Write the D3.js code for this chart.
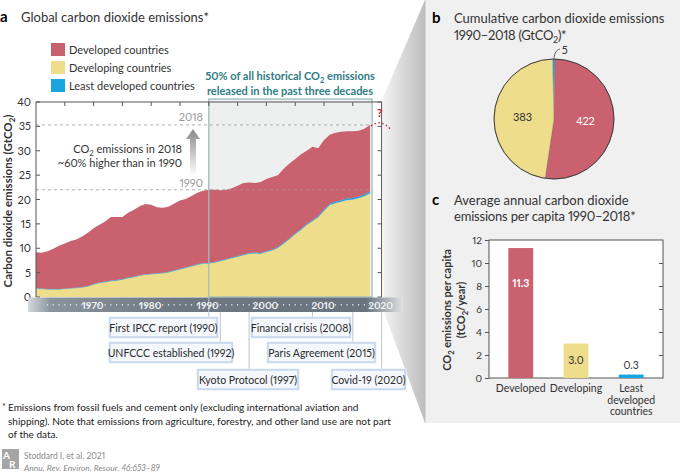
<!DOCTYPE html>
<html>
<head>
<meta charset="utf-8">
<script src="https://cdn.jsdelivr.net/npm/d3@7"></script>
<style>
  body { margin: 0; background: #fff; }
  text { font-family: Lato, "Open Sans", sans-serif; font-variant-numeric: proportional-nums; }
</style>
</head>
<body>
<svg id="chart" width="680" height="476"></svg>
<script>
// ---- data ----
var years = [1960,1961,1962,1963,1964,1965,1966,1967,1968,1969,
             1970,1971,1972,1973,1974,1975,1976,1977,1978,1979,
             1980,1981,1982,1983,1984,1985,1986,1987,1988,1989,
             1990,1991,1992,1993,1994,1995,1996,1997,1998,1999,
             2000,2001,2002,2003,2004,2005,2006,2007,2008,2009,
             2010,2011,2012,2013,2014,2015,2016,2017,2018];
var developed = [7.35,7.35,7.75,8.25,8.85,9.25,9.65,9.85,10.34,10.94,
                 11.44,11.83,12.33,13.03,12.93,12.73,13.32,13.72,14.12,14.42,
                 14.12,13.52,13.31,13.31,13.71,14.01,14.01,14.30,14.70,14.80,
                 15.00,14.80,14.39,14.19,14.18,14.38,14.67,14.47,14.27,14.56,
                 14.76,14.85,14.75,15.14,15.33,15.22,15.31,15.00,14.99,13.88,
                 14.26,14.15,14.14,14.03,13.82,13.71,13.50,13.49,13.68];
var developing = [1.8,1.7,1.6,1.6,1.6,1.7,1.8,1.9,2.0,2.2,
                  2.6,2.9,3.1,3.3,3.4,3.6,3.9,4.1,4.4,4.6,
                  4.7,4.8,4.9,5.1,5.4,5.7,6.0,6.3,6.6,6.9,
                  6.9,7.1,7.4,7.7,8.0,8.3,8.6,8.9,9.0,8.9,
                  9.3,9.6,10.1,11.0,11.9,12.9,13.8,14.8,15.6,16.4,
                  17.7,18.9,19.3,19.6,19.9,20.0,20.3,20.7,21.3];
var least = [0.05,0.05,0.05,0.05,0.05,0.05,0.05,0.05,0.06,0.06,
             0.06,0.07,0.07,0.07,0.07,0.07,0.08,0.08,0.08,0.08,
             0.08,0.08,0.09,0.09,0.09,0.09,0.09,0.10,0.10,0.10,
             0.10,0.10,0.11,0.11,0.12,0.12,0.13,0.13,0.13,0.14,
             0.14,0.15,0.15,0.16,0.17,0.18,0.19,0.20,0.21,0.22,
             0.24,0.25,0.26,0.27,0.28,0.29,0.30,0.31,0.32];

var seriesKeys = ['developing', 'least', 'developed'];
var legendLabels = ['Developed countries', 'Developing countries', 'Least developed countries'];
var legendKeys = ['developed', 'developing', 'least'];
var yTicksA = [0, 5, 10, 15, 20, 25, 30, 35, 40];
var decadeLabels = [1970, 1980, 1990, 2000, 2010, 2020];

var events = ['First IPCC report (1990)', 'UNFCCC established (1992)', 'Kyoto Protocol (1997)',
              'Financial crisis (2008)', 'Paris Agreement (2015)', 'Covid-19 (2020)'];
var eventYears = [1990, 1992, 1997, 2008, 2015, 2020];

var pieKeys = ['least', 'developed', 'developing'];
var pieValues = [5, 422, 383];

var barCats = ['Developed', 'Developing', 'Least'];
var barKeys = ['developed', 'developing', 'least'];
var barValues = [11.3, 3.0, 0.3];
var barTicks = [0, 2, 4, 6, 8, 10, 12];

// ---- styles ----
var color = { developed: '#c9616f', developing: '#eedd8b', least: '#1ba5e0' };
var svg = d3.select('#chart');
var defs = svg.append('defs');

// small helper: text with CO2 subscript (the "₂" gets lowered)
function richText(sel, str, sub) {
    var parts = str.split('₂');
    parts.forEach(function (p, i) {
        if (i > 0) {
            sel.append('tspan').attr('dy', 2.5).attr('font-size', sub || '70%').text('2');
            sel.append('tspan').attr('dy', -2.5).text(p);
        } else {
            sel.append('tspan').text(p);
        }
    });
    return sel;
}

// ---- right grey panel + bevel ----
var bevel = defs.append('linearGradient').attr('id', 'bevel')
    .attr('x1', 0).attr('x2', 1).attr('y1', 0).attr('y2', 0);
bevel.append('stop').attr('offset', '0%').attr('stop-color', '#f4f4f4');
bevel.append('stop').attr('offset', '100%').attr('stop-color', '#bdbdbd');

svg.append('path')
    .attr('d', 'M425,0 L382,100 L384,312 L425,423 Z')
    .attr('fill', 'url(#bevel)');
svg.append('rect').attr('x', 425).attr('y', 0).attr('width', 255).attr('height', 423)
    .attr('fill', '#f0f0f0');
svg.append('line').attr('x1', 425.5).attr('x2', 425.5).attr('y1', 0).attr('y2', 423)
    .attr('stroke', '#d6d6d6');

// ================= panel a =================
var x = d3.scaleLinear().domain([1960, 2020]).range([36, 381.6]);
var y = d3.scaleLinear().domain([0, 40]).range([297, 102]);

svg.append('text').attr('x', 0).attr('y', 22).attr('font-weight', 700).attr('font-size', 15).text('a');
svg.append('text').attr('x', 21).attr('y', 22).attr('font-size', 13).attr('fill', '#333')
    .text('Global carbon dioxide emissions*');

// legend
var leg = svg.append('g');
legendKeys.forEach(function (k, i) {
    leg.append('rect').attr('x', 51).attr('y', 43 + i * 18).attr('width', 14).attr('height', 13)
        .attr('fill', color[k]);
    leg.append('text').attr('x', 69).attr('y', 53.5 + i * 18).attr('font-size', 11).attr('fill', '#333')
        .text(legendLabels[i]);
});

// highlight box background 1990-2018
svg.append('rect').attr('x', x(1990)).attr('y', 99)
    .attr('width', x(2018) + 2 - x(1990)).attr('height', y(0) - 99)
    .attr('fill', '#eef0ef');

// stacked areas
var table = years.map(function (yr, i) {
    return { year: yr, developed: developed[i], developing: developing[i], least: least[i] };
});
var stacked = d3.stack().keys(seriesKeys)(table);
var area = d3.area()
    .x(function (d) { return x(d.data.year); })
    .y0(function (d) { return y(d[0]); })
    .y1(function (d) { return y(d[1]); });
svg.append('g').selectAll('path').data(stacked).join('path')
    .attr('d', area)
    .attr('fill', function (s) { return color[s.key]; })
    .attr('stroke', function (s) { return s.key === 'least' ? color.least : 'none'; })
    .attr('stroke-width', 0.35);

// dashed reference lines
var dashed = [{ v: 35.3, lab: '2018', ly: 121 }, { v: 22.0, lab: '1990', ly: 187 }];
dashed.forEach(function (d) {
    svg.append('line').attr('x1', 36).attr('x2', x(2018))
        .attr('y1', y(d.v)).attr('y2', y(d.v))
        .attr('stroke', '#9a9a9a').attr('stroke-width', 0.8).attr('stroke-dasharray', '3,3');
    svg.append('text').attr('x', 203).attr('y', d.ly).attr('text-anchor', 'end')
        .attr('font-size', 11).attr('fill', '#9a9a9a').text(d.lab);
});

// grey arrow 1990 -> 2018
var arrowGrad = defs.append('linearGradient').attr('id', 'arrowGrad')
    .attr('x1', 0).attr('x2', 0).attr('y1', 0).attr('y2', 1);
arrowGrad.append('stop').attr('offset', '0%').attr('stop-color', '#8a8a8a');
arrowGrad.append('stop').attr('offset', '100%').attr('stop-color', '#ffffff');
svg.append('path')
    .attr('d', 'M193,129 L200,139 L196,139 L196,176 L190,176 L190,139 L186,139 Z')
    .attr('fill', 'url(#arrowGrad)');

richText(svg.append('text').attr('x', 182).attr('y', 153).attr('text-anchor', 'end')
    .attr('font-size', 11).attr('fill', '#333'), 'CO₂ emissions in 2018');
svg.append('text').attr('x', 182).attr('y', 167).attr('text-anchor', 'end')
    .attr('font-size', 11).attr('fill', '#333').text('~60% higher than in 1990');

// highlight box border + caption
svg.append('rect').attr('x', x(1990)).attr('y', 99)
    .attr('width', x(2018) + 2 - x(1990)).attr('height', y(0) - 99)
    .attr('fill', 'none').attr('stroke', '#9dbdbd').attr('stroke-width', 1.3);
var cap = svg.append('text').attr('text-anchor', 'middle').attr('font-size', 11)
    .attr('font-weight', 700).attr('fill', '#2f7c85');
richText(cap.append('tspan').attr('x', 290).attr('y', 80), '50% of all historical CO₂ emissions');
cap.append('tspan').attr('x', 290).attr('y', 94.5).text('released in the past three decades');

// frame & ticks
var frame = svg.append('g').attr('stroke', '#555').attr('stroke-width', 1).attr('fill', 'none');
frame.append('path').attr('d', 'M36,297 V102 H381.6 V297');
yTicksA.forEach(function (t) {
    frame.append('line').attr('x1', 36).attr('x2', 40).attr('y1', y(t)).attr('y2', y(t));
    frame.append('line').attr('x1', 381.6).attr('x2', 377.6).attr('y1', y(t)).attr('y2', y(t));
});
d3.range(1965, 2020, 5).forEach(function (yr) {
    frame.append('line').attr('x1', x(yr)).attr('x2', x(yr)).attr('y1', 102).attr('y2', 106);
});

svg.append('g').selectAll('text').data(yTicksA).join('text')
    .attr('x', 31).attr('y', function (d) { return y(d) + 4; })
    .attr('text-anchor', 'end').attr('font-size', 11).attr('fill', '#333')
    .text(function (d) { return d; });

var ylab = svg.append('text').attr('transform', 'translate(12,201) rotate(-90)')
    .attr('text-anchor', 'middle').attr('font-size', 11.5).attr('font-weight', 700).attr('fill', '#333');
richText(ylab, 'Carbon dioxide emissions (GtCO₂)');

// red question mark for 2019+
svg.append('text').attr('x', 377).attr('y', 117).attr('font-size', 12).attr('font-weight', 700)
    .attr('fill', '#b3262e').text('?');
svg.append('path').attr('d', 'M371,126 Q381,118 391,130')
    .attr('fill', 'none').attr('stroke', '#b3262e').attr('stroke-width', 1.4)
    .attr('stroke-dasharray', '1.5,2.5');

// x axis band
var band = defs.append('linearGradient').attr('id', 'band')
    .attr('x1', 0).attr('x2', 1).attr('y1', 0).attr('y2', 0);
band.append('stop').attr('offset', '0%').attr('stop-color', '#d5d9dd');
band.append('stop').attr('offset', '6%').attr('stop-color', '#8a949d');
band.append('stop').attr('offset', '40%').attr('stop-color', '#6d7882');
band.append('stop').attr('offset', '90%').attr('stop-color', '#69737d');
band.append('stop').attr('offset', '100%').attr('stop-color', '#dfe2e5');
svg.append('rect').attr('x', 28).attr('y', 297.5).attr('width', 375).attr('height', 14.5)
    .attr('fill', 'url(#band)');

// event connectors
svg.append('g').selectAll('line').data(eventYears).join('line')
    .attr('x1', function (d) { return x(d); }).attr('x2', function (d) { return x(d); })
    .attr('y1', function (d) { return d === 1990 ? 297 : 312; })
    .attr('y2', function (d, i) { return [318, 343, 370, 318, 343, 370][i]; })
    .attr('stroke', '#b9c6d3').attr('stroke-width', 1);

var minor = years.concat([2019, 2020]).filter(function (yr) { return yr % 10 !== 0 && yr > 1961; });
svg.append('g').selectAll('rect').data(minor).join('rect')
    .attr('x', function (d) { return x(d) - 0.6; }).attr('y', 304).attr('width', 1.2).attr('height', 1.6)
    .attr('fill', '#d8dde2');
svg.append('g').selectAll('text').data(decadeLabels).join('text')
    .attr('x', function (d) { return x(d) - 1; }).attr('y', 308.5)
    .attr('text-anchor', 'middle').attr('font-size', 10).attr('font-weight', 700)
    .attr('fill', '#f2f4f6').text(function (d) { return d; });

// event boxes (layout for annotation boxes)
var boxX = [110, 110, 198, 252, 268, 332];
var boxW = [107, 122, 100, 98, 107, 73];
var boxY = [318, 343, 370, 318, 343, 370];
var evg = svg.append('g');
events.forEach(function (e, i) {
    evg.append('rect').attr('x', boxX[i] - 1.5).attr('y', boxY[i] - 1.5)
        .attr('width', boxW[i] + 3).attr('height', 22).attr('fill', '#e6eef8');
    evg.append('rect').attr('x', boxX[i]).attr('y', boxY[i])
        .attr('width', boxW[i]).attr('height', 19).attr('fill', '#f4f8fd')
        .attr('stroke', '#b8cde8').attr('stroke-width', 1.2);
    evg.append('text').attr('x', boxX[i] + boxW[i] / 2).attr('y', boxY[i] + 13.5)
        .attr('text-anchor', 'middle').attr('font-size', 10.5).attr('fill', '#2a2a2a').text(e);
});

// footnote + credit
var foot = ['Emissions from fossil fuels and cement only (excluding international aviation and',
            'shipping).  Note that emissions from agriculture, forestry, and other land use are not part',
            'of the data.'];
svg.append('text').attr('x', 2).attr('y', 410).attr('font-size', 9).attr('fill', '#333').text('*');
svg.append('g').selectAll('text').data(foot).join('text')
    .attr('x', 8).attr('y', function (d, i) { return 411 + i * 13.5; })
    .attr('font-size', 10).attr('fill', '#222').text(function (d) { return d; });

svg.append('rect').attr('x', 2).attr('y', 449).attr('width', 17).attr('height', 20).attr('fill', '#a5a5a5');
svg.append('text').attr('x', 3).attr('y', 459).attr('font-size', 10).attr('font-weight', 700)
    .attr('fill', '#fff').text('A');
svg.append('text').attr('x', 9).attr('y', 468).attr('font-size', 10).attr('font-weight', 700)
    .attr('fill', '#fff').text('R');
svg.append('text').attr('x', 24).attr('y', 459).attr('font-size', 8.5).attr('fill', '#8a8a8a')
    .text('Stoddard I, et al. 2021');
svg.append('text').attr('x', 24).attr('y', 471).attr('font-size', 8.5).attr('font-style', 'italic')
    .attr('fill', '#8a8a8a').text('Annu. Rev. Environ. Resour. 46:653–89');

// ================= panel b =================
svg.append('text').attr('x', 432).attr('y', 23).attr('font-weight', 700).attr('font-size', 15).text('b');
svg.append('text').attr('x', 454).attr('y', 23).attr('font-size', 13).attr('fill', '#333')
    .text('Cumulative carbon dioxide emissions');
richText(svg.append('text').attr('x', 454).attr('y', 40).attr('font-size', 13).attr('fill', '#333')
    .attr('letter-spacing', -0.3), '1990–2018 (GtCO₂)*');

var pieG = svg.append('g').attr('transform', 'translate(554,119)');
var startA = -1.3 * Math.PI / 180;
var pie = d3.pie().sort(null).startAngle(startA).endAngle(startA + 2 * Math.PI);
var arcs = pie(pieValues);
var arc = d3.arc().innerRadius(0).outerRadius(60);
pieG.selectAll('path').data(arcs).join('path')
    .attr('d', arc)
    .attr('fill', function (d, i) { return color[pieKeys[i]]; })
    .attr('stroke', function (d, i) { return i === 0 ? 'none' : '#7a6a60'; })
    .attr('stroke-width', 0.4);
pieG.append('circle').attr('r', 60).attr('fill', 'none').attr('stroke', '#333').attr('stroke-width', 0.9);

var labArc = d3.arc().innerRadius(30).outerRadius(30);
pieG.selectAll('text.v').data(arcs.slice(1)).join('text').attr('class', 'v')
    .attr('x', function (d) { return labArc.centroid(d)[0] * 1.05; })
    .attr('y', function (d) { return labArc.centroid(d)[1] + 4; })
    .attr('text-anchor', 'middle').attr('font-size', 11)
    .attr('fill', function (d, i) { return i === 0 ? '#fff' : '#333'; })
    .text(function (d) { return d.value; });
// leader for the tiny slice
var tip = d3.arc().innerRadius(60).outerRadius(60).centroid(arcs[0]);
pieG.append('path')
    .attr('d', 'M' + tip[0] + ',' + tip[1] + ' Q' + (tip[0] + 1) + ',' + (tip[1] - 9) + ' ' + (tip[0] + 6) + ',' + (tip[1] - 10))
    .attr('fill', 'none').attr('stroke', '#555').attr('stroke-width', 0.9);
pieG.append('text').attr('x', tip[0] + 8).attr('y', tip[1] - 5).attr('font-size', 11).attr('fill', '#333')
    .text(arcs[0].value);

// ================= panel c =================
svg.append('text').attr('x', 432).attr('y', 205).attr('font-weight', 700).attr('font-size', 15).text('c');
svg.append('text').attr('x', 454).attr('y', 205).attr('font-size', 13).attr('fill', '#333')
    .text('Average annual carbon dioxide');
svg.append('text').attr('x', 454).attr('y', 221).attr('font-size', 13).attr('fill', '#333')
    .attr('letter-spacing', -0.2).text('emissions per capita 1990–2018*');

var bx = d3.scaleBand().domain(barCats).range([489, 663]).paddingInner(0.55).paddingOuter(0.35);
var by = d3.scaleLinear().domain([0, 12]).range([378, 240]);

svg.append('rect').attr('x', 489).attr('y', 240).attr('width', 174).attr('height', 138)
    .attr('fill', '#fff').attr('stroke', '#555').attr('stroke-width', 1);

svg.append('g').selectAll('rect').data(barValues).join('rect')
    .attr('x', function (d, i) { return bx(barCats[i]); })
    .attr('width', bx.bandwidth())
    .attr('y', function (d) { return by(d); })
    .attr('height', function (d) { return by(0) - by(d); })
    .attr('fill', function (d, i) { return color[barKeys[i]]; });

svg.append('g').attr('transform', 'translate(489,0)')
    .call(d3.axisLeft(by).tickValues(barTicks).tickSize(4).tickPadding(3))
    .call(function (g) { g.select('.domain').remove(); })
    .call(function (g) {
        g.selectAll('line').attr('stroke', '#555');
        g.selectAll('text').attr('font-size', 10).attr('fill', '#333').attr('font-family', 'Lato, sans-serif');
    });
svg.append('g').attr('transform', 'translate(663,0)')
    .call(d3.axisLeft(by).tickValues(barTicks.slice(1, -1)).tickSize(4).tickFormat(''))
    .call(function (g) { g.select('.domain').remove(); g.selectAll('line').attr('stroke', '#555'); });

// value labels
var valY = [287, 364, 369];
svg.append('g').selectAll('text').data(barValues).join('text')
    .attr('x', function (d, i) { return bx(barCats[i]) + bx.bandwidth() / 2; })
    .attr('y', function (d, i) { return valY[i]; })
    .attr('text-anchor', 'middle').attr('font-size', 10.5)
    .attr('font-weight', function (d, i) { return i === 0 ? 700 : 400; })
    .attr('fill', function (d, i) { return i === 0 ? '#fff' : '#333'; })
    .text(function (d) { return d.toFixed(1); });

// category labels
var catLines = [['Developed'], ['Developing'], ['Least', 'developed', 'countries']];
catLines.forEach(function (lines, i) {
    lines.forEach(function (ln, j) {
        svg.append('text').attr('x', bx(barCats[i]) + bx.bandwidth() / 2).attr('y', 392 + j * 11.5)
            .attr('text-anchor', 'middle').attr('font-size', 10.5).attr('fill', '#333').text(ln);
    });
});

var cl = svg.append('text').attr('text-anchor', 'middle').attr('font-size', 11)
    .attr('font-weight', 700).attr('fill', '#333');
richText(cl.append('tspan').attr('x', 0).attr('y', 0), 'CO₂ emissions per capita');
cl.attr('transform', 'translate(451,310) rotate(-90)');
var cl2 = svg.append('text').attr('text-anchor', 'middle').attr('font-size', 11)
    .attr('font-weight', 700).attr('fill', '#333').attr('transform', 'translate(465,310) rotate(-90)');
richText(cl2, '(tCO₂/year)');
</script>
</body>
</html>
